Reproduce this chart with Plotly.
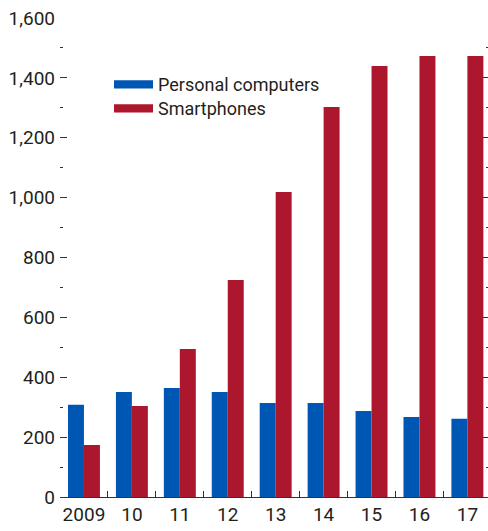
import plotly.graph_objects as go

categories = ["2009", "10", "11", "12", "13", "14", "15", "16", "17"]
personal_computers = [308, 351, 364, 351, 314, 314, 287, 267, 261]
smartphones = [174, 304, 494, 725, 1019, 1303, 1440, 1473, 1473]
y_ticks = [0, 200, 400, 600, 800, 1000, 1200, 1400, 1600]
series_names = ["Personal computers", "Smartphones"]

BLUE = "#0056B3"
RED = "#AD172D"
TXT = "#231F20"
FONT = "Liberation Sans Narrow, Arial Narrow, Roboto, sans-serif"

fig = go.Figure()
fig.add_trace(go.Bar(x=categories, y=personal_computers, name=series_names[0],
                     marker=dict(color=BLUE, line=dict(width=0)), showlegend=False))
fig.add_trace(go.Bar(x=categories, y=smartphones, name=series_names[1],
                     marker=dict(color=RED, line=dict(width=0)), showlegend=False))
# invisible helper trace so the right-hand axis is drawn
fig.add_trace(go.Scatter(x=[categories[0]], y=[0], yaxis="y2", mode="markers",
                         marker=dict(opacity=0), showlegend=False, hoverinfo="skip"))

# manual legend
for i, (name, col) in enumerate(zip(series_names, [BLUE, RED])):
    yc = 0.8614 - i * 0.0501
    fig.add_shape(type="rect", xref="paper", yref="paper",
                  x0=(114 - 60) / 428, x1=(153 - 60) / 428,
                  y0=yc - 0.0085, y1=yc + 0.0085,
                  fillcolor=col, line=dict(width=0))
    fig.add_annotation(xref="paper", yref="paper", x=(156 - 60) / 428, y=yc,
                       text=name, showarrow=False, xanchor="left", yanchor="middle",
                       font=dict(family=FONT, size=18, color=TXT))

fig.update_layout(
    width=488, height=531,
    margin=dict(l=60, r=0, t=18, b=34, autoexpand=False),
    paper_bgcolor="white", plot_bgcolor="white",
    barmode="group", bargap=1/3, bargroupgap=0,
    font=dict(family=FONT, size=19, color=TXT),
    xaxis=dict(type="category", range=[-0.5, 8.43], showgrid=False,
               showline=True, linecolor="#333333", linewidth=1,
               ticks="inside", tickson="boundaries", ticklen=6,
               tickcolor="#333333", tickwidth=1, tickangle=0, automargin=False,
               tickfont=dict(family=FONT, size=19, color=TXT), zeroline=False),
    yaxis=dict(range=[0, 1600], tickvals=y_ticks, tickformat=",",
               showgrid=False, showline=False, zeroline=False, automargin=False,
               ticks="inside", ticklen=7, tickcolor="#333333", tickwidth=1,
               minor=dict(ticks="inside", ticklen=3, dtick=100, tick0=0,
                          tickcolor="#333333", showgrid=False),
               ticklabelstandoff=4,
               tickfont=dict(family=FONT, size=19, color=TXT)),
    yaxis2=dict(range=[0, 1600], tickvals=y_ticks, overlaying="y", side="right",
                showgrid=False, showline=False, zeroline=False, showticklabels=False,
                automargin=False,
                ticks="inside", ticklen=5, tickcolor="#333333", tickwidth=1,
                minor=dict(ticks="inside", ticklen=2, dtick=100, tick0=0,
                           tickcolor="#333333", showgrid=False)),
)

fig.write_html("out.html", config={"displayModeBar": False},
               post_script="document.body.style.margin='0';document.body.style.overflow='hidden';")
